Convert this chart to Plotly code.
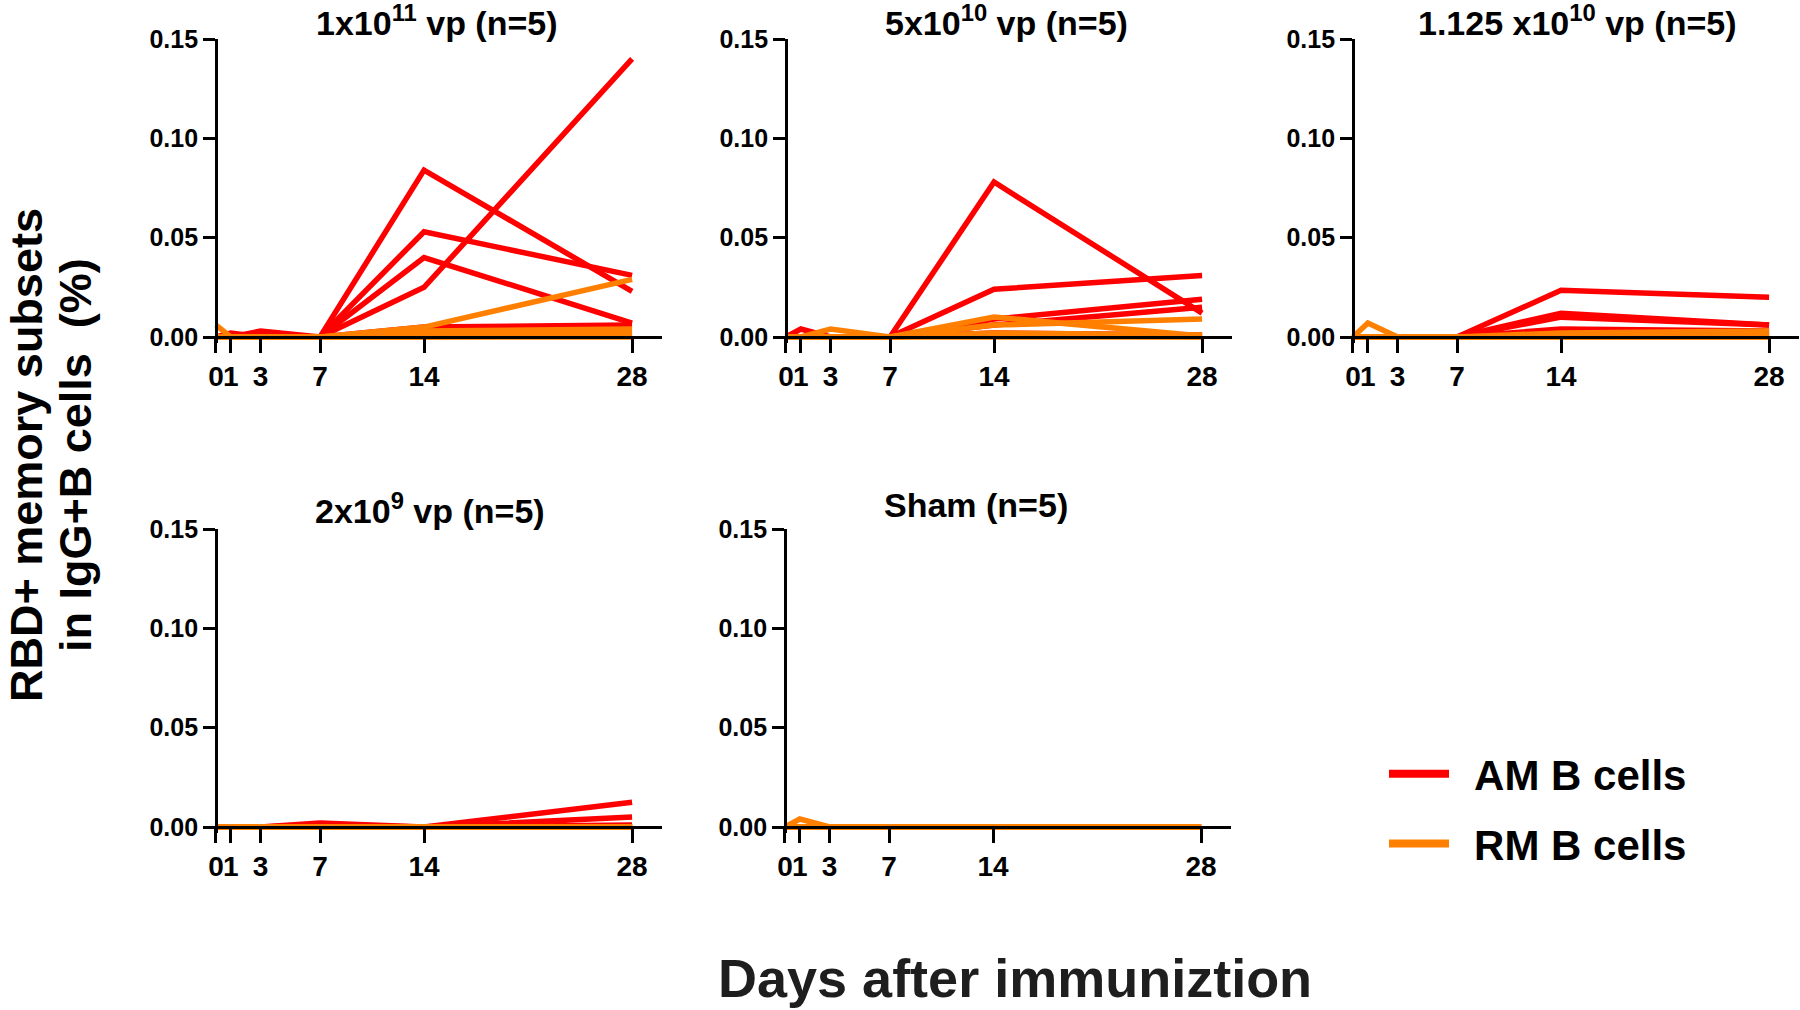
import plotly.graph_objects as go

# Days after immunization and tick labels
days = [0, 1, 3, 7, 14, 28]
day_labels = ['0', '1', '3', '7', '14', '28']
y_ticks = [0, 0.05, 0.10, 0.15]

titles = ['1x10<sup>11</sup> vp (n=5)',
          '5x10<sup>10</sup> vp (n=5)',
          '1.125 x10<sup>10</sup> vp (n=5)',
          '2x10<sup>9</sup> vp (n=5)',
          'Sham (n=5)']

# AM B cells (red), one row per animal, values at days 0,1,3,7,14,28
am_1e11 = [[0, 0.002, 0, 0, 0.084, 0.023],
           [0, 0, 0.003, 0, 0.053, 0.031],
           [0, 0, 0, 0, 0.040, 0.007],
           [0, 0, 0, 0, 0.025, 0.140],
           [0, 0, 0, 0, 0.005, 0.006]]
rm_1e11 = [[0.006, 0, 0, 0, 0.005, 0.029],
           [0, 0, 0, 0, 0.003, 0.004],
           [0, 0, 0, 0, 0.001, 0.002],
           [0, 0, 0, 0, 0.000, 0.001],
           [0, 0, 0, 0, 0.000, 0.000]]

am_5e10 = [[0, 0, 0, 0, 0.078, 0.012],
           [0, 0, 0, 0, 0.024, 0.031],
           [0, 0, 0, 0, 0.009, 0.019],
           [0, 0, 0, 0, 0.006, 0.015],
           [0, 0.004, 0, 0, 0.002, 0.001]]
rm_5e10 = [[0, 0, 0.004, 0, 0.010, 0.0005],
           [0, 0, 0, 0, 0.006, 0.009],
           [0, 0, 0, 0, 0.002, 0.001],
           [0, 0, 0, 0, 0.001, 0],
           [0, 0, 0, 0, 0, 0]]

am_1125e10 = [[0, 0, 0, 0, 0.0235, 0.020],
              [0, 0, 0, 0, 0.012, 0.006],
              [0, 0, 0, 0, 0.010, 0.006],
              [0, 0, 0, 0, 0.004, 0.003],
              [0, 0, 0, 0, 0.002, 0.001]]
rm_1125e10 = [[0, 0.007, 0, 0, 0.002, 0.003],
              [0, 0, 0, 0, 0.001, 0.002],
              [0, 0, 0, 0, 0.001, 0.001],
              [0, 0, 0, 0, 0, 0],
              [0, 0, 0, 0, 0, 0]]

am_2e9 = [[0, 0, 0, 0.002, 0, 0.0125],
          [0, 0, 0, 0.001, 0, 0.005],
          [0, 0, 0, 0, 0, 0.001],
          [0, 0, 0, 0, 0, 0],
          [0, 0, 0, 0, 0, 0]]
rm_2e9 = [[0, 0, 0, 0, 0, 0],
          [0, 0, 0, 0, 0, 0],
          [0, 0, 0, 0, 0, 0],
          [0, 0, 0, 0, 0, 0],
          [0, 0, 0, 0, 0, 0]]

am_sham = [[0, 0, 0, 0, 0, 0],
           [0, 0, 0, 0, 0, 0],
           [0, 0, 0, 0, 0, 0],
           [0, 0, 0, 0, 0, 0],
           [0, 0, 0, 0, 0, 0]]
rm_sham = [[0, 0.004, 0, 0, 0, 0],
           [0, 0, 0, 0, 0, 0],
           [0, 0, 0, 0, 0, 0],
           [0, 0, 0, 0, 0, 0],
           [0, 0, 0, 0, 0, 0]]

am_groups = [am_1e11, am_5e10, am_1125e10, am_2e9, am_sham]
rm_groups = [rm_1e11, rm_5e10, rm_1125e10, rm_2e9, rm_sham]

AM_COLOR = '#ff0000'
RM_COLOR = '#ff8000'
FONT = 'Liberation Sans, Arial, Helvetica, sans-serif'
W, H = 1800, 1010

# pixel origin (day 0, value 0) of each panel and title centres
origins = [(216, 337), (786, 337), (1353, 337), (216, 827), (785, 827)]
title_pos = [(437, 20), (1007, 20), (1577, 20), (430, 508), (976, 505)]
px_day = 14.86
px_unit = 298 / 0.15
x_range = [-0.4, 30]
y_range = [-0.003, 0.15]

fig = go.Figure()
layout = dict(width=W, height=H,
              margin=dict(l=0, r=0, t=0, b=0, pad=0, autoexpand=False),
              plot_bgcolor='white', paper_bgcolor='white',
              font=dict(family=FONT, color='black', weight='bold'),
              showlegend=True)

annotations = []
for i, (x0, y0) in enumerate(origins):
    n = '' if i == 0 else str(i + 1)
    left = x0 + x_range[0] * px_day
    right = x0 + x_range[1] * px_day
    bottom = y0 - y_range[0] * px_unit
    top = y0 - y_range[1] * px_unit
    layout['xaxis' + n] = dict(
        domain=[left / W, right / W], range=x_range, automargin=False,
        anchor='free', position=1 - y0 / H,
        tickvals=days, ticktext=day_labels, tickangle=0,
        ticks='outside', ticklen=14, tickwidth=2.7, tickcolor='black',
        showline=True, linewidth=2.7, linecolor='black',
        showgrid=False, zeroline=False,
        tickfont=dict(size=28, family=FONT, weight='bold'))
    layout['yaxis' + n] = dict(
        domain=[1 - bottom / H, 1 - top / H], range=y_range, automargin=False,
        anchor='free', position=x0 / W,
        tickvals=y_ticks, tickformat='.2f',
        ticks='outside', ticklen=12, tickwidth=2.7, tickcolor='black',
        showline=True, linewidth=2.7, linecolor='black',
        showgrid=False, zeroline=False,
        tickfont=dict(size=25, family=FONT, weight='bold'))

    for row in am_groups[i]:
        fig.add_trace(go.Scatter(x=days, y=row, mode='lines',
                                 line=dict(color=AM_COLOR, width=5.5),
                                 xaxis='x' + n, yaxis='y' + n,
                                 showlegend=False, hoverinfo='x+y'))
    for row in rm_groups[i]:
        fig.add_trace(go.Scatter(x=days, y=row, mode='lines',
                                 line=dict(color=RM_COLOR, width=5.5),
                                 xaxis='x' + n, yaxis='y' + n,
                                 showlegend=False, hoverinfo='x+y'))

    tx, ty = title_pos[i]
    annotations.append(dict(text='<b>' + titles[i] + '</b>', x=tx / W, y=1 - ty / H,
                            xref='paper', yref='paper', showarrow=False,
                            xanchor='center', yanchor='middle',
                            font=dict(size=34, family=FONT, color='black')))

# legend entries
fig.add_trace(go.Scatter(x=[None], y=[None], mode='lines', name='\u00a0\u2009AM B cells',
                         line=dict(color=AM_COLOR, width=8), legendgroup='am'))
fig.add_trace(go.Scatter(x=[None], y=[None], mode='lines', name='\u00a0\u2009RM B cells',
                         line=dict(color=RM_COLOR, width=8), legendgroup='rm'))

layout['legend'] = dict(x=1384 / W, y=1 - 740 / H, xanchor='left', yanchor='top',
                        font=dict(size=42, family=FONT, color='black', weight='bold'),
                        tracegroupgap=12, itemwidth=60, bgcolor='rgba(0,0,0,0)')

# axis titles shared by all panels
annotations.append(dict(text='<b>RBD+ memory subsets</b>', x=27 / W, y=1 - 455 / H,
                        xref='paper', yref='paper', showarrow=False, textangle=-90,
                        xanchor='center', yanchor='middle',
                        font=dict(size=45, family=FONT, color='black')))
annotations.append(dict(text='<b>in IgG+B cells &nbsp;(%)</b>', x=76 / W, y=1 - 455 / H,
                        xref='paper', yref='paper', showarrow=False, textangle=-90,
                        xanchor='center', yanchor='middle',
                        font=dict(size=45, family=FONT, color='black')))
annotations.append(dict(text='<b>Days after immuniztion</b>', x=1015 / W, y=1 - 978 / H,
                        xref='paper', yref='paper', showarrow=False,
                        xanchor='center', yanchor='middle',
                        font=dict(size=54, family=FONT, color='#1e1e1e')))
layout['annotations'] = annotations

fig.update_layout(**layout)
# drop the default page margin so the 1800x1010 figure fills the window
fig.write_html('out.html', config={'displayModeBar': False},
               post_script="document.body.style.margin='0';")
